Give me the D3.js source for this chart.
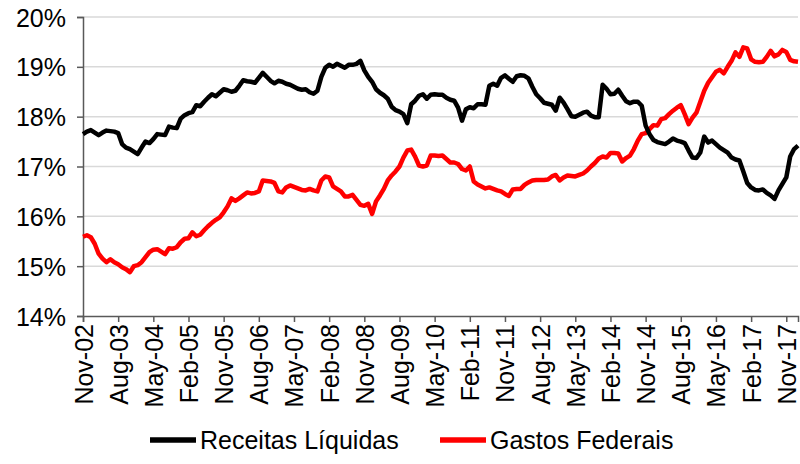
<!DOCTYPE html>
<html><head><meta charset="utf-8">
<script src="https://cdn.jsdelivr.net/npm/d3@7"></script>
<style>body{margin:0;background:#fff}svg{display:block}text{font-family:"Liberation Sans",Arial,sans-serif;fill:#000}</style>
</head><body>
<svg id="c" width="800" height="464"></svg>
<script>
const startMonth = "Nov-02";
const monthNames = ["Jan","Feb","Mar","Apr","May","Jun","Jul","Aug","Sep","Oct","Nov","Dec"];
const tickLabels = ["Nov-02","Aug-03","May-04","Feb-05","Nov-05","Aug-06","May-07","Feb-08","Nov-08","Aug-09","May-10","Feb-11","Nov-11","Aug-12","May-13","Feb-14","Nov-14","Aug-15","May-16","Feb-17","Nov-17"];
const yTicks = [14,15,16,17,18,19,20];
const seriesNames = ["Receitas Líquidas","Gastos Federais"];
const receitas = [
17.65,17.70,17.73,17.68,17.63,17.68,17.72,17.71,17.70,17.67,17.45,17.38,
17.35,17.30,17.25,17.38,17.50,17.47,17.55,17.65,17.64,17.63,17.80,17.78,
17.77,17.96,18.03,18.07,18.09,18.23,18.21,18.30,18.38,18.45,18.41,18.48,
18.55,18.53,18.50,18.52,18.62,18.73,18.71,18.70,18.68,18.78,18.88,18.80,
18.72,18.67,18.72,18.70,18.66,18.64,18.60,18.56,18.54,18.55,18.49,18.46,
18.52,18.80,18.98,19.04,19.00,19.06,19.02,18.98,19.04,19.04,19.06,19.12,
18.93,18.80,18.70,18.55,18.48,18.43,18.36,18.20,18.13,18.10,18.05,17.87,
18.25,18.32,18.42,18.45,18.36,18.44,18.45,18.44,18.44,18.38,18.34,18.32,
18.18,17.92,18.15,18.19,18.17,18.25,18.25,18.24,18.62,18.66,18.62,18.78,
18.83,18.76,18.70,18.81,18.83,18.82,18.77,18.60,18.45,18.37,18.28,18.26,
18.24,18.12,18.38,18.28,18.15,18.01,18.00,18.04,18.08,18.10,18.02,17.99,
17.99,18.64,18.56,18.45,18.46,18.54,18.42,18.31,18.27,18.30,18.30,18.22,
17.82,17.65,17.53,17.49,17.47,17.45,17.50,17.56,17.52,17.50,17.47,17.32,
17.18,17.17,17.28,17.60,17.48,17.52,17.45,17.38,17.33,17.28,17.18,17.14,
17.12,16.90,16.67,16.58,16.53,16.52,16.54,16.47,16.42,16.35,16.52,16.65,
16.78,17.20,17.35,17.42];
const gastos = [
15.59,15.62,15.58,15.45,15.25,15.15,15.08,15.14,15.08,15.04,14.98,14.94,
14.88,15.00,15.02,15.08,15.18,15.28,15.33,15.34,15.29,15.24,15.36,15.35,
15.38,15.48,15.55,15.56,15.68,15.60,15.63,15.72,15.80,15.87,15.93,15.98,
16.08,16.20,16.36,16.31,16.36,16.42,16.48,16.46,16.47,16.50,16.72,16.71,
16.70,16.67,16.50,16.48,16.58,16.62,16.59,16.56,16.53,16.52,16.55,16.52,
16.50,16.72,16.80,16.78,16.60,16.55,16.50,16.40,16.40,16.43,16.33,16.23,
16.21,16.25,16.05,16.30,16.42,16.55,16.72,16.82,16.90,17.00,17.18,17.32,
17.34,17.20,17.02,17.00,17.02,17.22,17.22,17.21,17.22,17.15,17.08,17.08,
17.05,16.95,16.92,17.00,16.70,16.64,16.60,16.56,16.58,16.55,16.52,16.50,
16.45,16.41,16.54,16.55,16.55,16.63,16.68,16.72,16.73,16.73,16.73,16.74,
16.80,16.83,16.72,16.78,16.82,16.81,16.80,16.83,16.86,16.92,17.00,17.07,
17.16,17.20,17.18,17.27,17.27,17.26,17.10,17.17,17.22,17.35,17.52,17.65,
17.67,17.75,17.83,17.82,17.95,17.97,18.05,18.12,18.18,18.23,18.05,17.85,
17.98,18.08,18.30,18.52,18.68,18.79,18.90,18.94,18.87,19.00,19.12,19.29,
19.20,19.39,19.37,19.15,19.10,19.09,19.10,19.20,19.32,19.21,19.25,19.34,
19.30,19.14,19.11,19.10];

function monthLabel(i){
  const m0 = monthNames.indexOf(startMonth.slice(0,3));
  const y0 = +startMonth.slice(4);
  const t = m0 + i;
  const m = ((t%12)+12)%12, y = y0 + Math.floor(t/12);
  return monthNames[m] + "-" + String(y).padStart(2,"0");
}
const months = receitas.map((_,i)=>monthLabel(i));

const svg = d3.select("#c");
const L = 83, R = 798, T = 17, B = 316;
const x = d3.scalePoint().domain(months).range([L,R]);
const y = d3.scaleLinear().domain([14,20]).range([B,T]);

svg.append("g").selectAll("line").data(yTicks.slice(1)).join("line")
  .attr("x1",L).attr("x2",R).attr("y1",d=>y(d)).attr("y2",d=>y(d))
  .attr("stroke","#d9d9d9").attr("stroke-width",1.5);

const ya = svg.append("g").attr("transform",`translate(${L},0)`)
  .call(d3.axisLeft(y).tickValues(yTicks).tickFormat(d=>d+"%").tickSize(6).tickPadding(11));
ya.select(".domain").attr("stroke","#595959").attr("stroke-width",1.5);
ya.selectAll(".tick line").attr("stroke","#595959").attr("stroke-width",1.5);
ya.selectAll("text").style("font-size","25px").attr("dy","0.36em");

const xa = svg.append("g").attr("transform",`translate(0,${B})`)
  .call(d3.axisBottom(x).tickValues(tickLabels).tickSize(6).tickPadding(8));
xa.select(".domain").attr("stroke","#595959").attr("stroke-width",1.5);
xa.selectAll(".tick line").attr("stroke","#595959").attr("stroke-width",1.5);
xa.selectAll("text").style("font-size","25px")
  .attr("transform","rotate(-90)").attr("text-anchor","end")
  .attr("x",-8).attr("y",0).attr("dy","0.36em");

const line = d3.line().x((d,i)=>x(months[i])).y(d=>y(d));
svg.append("path").datum(gastos).attr("d",line).attr("fill","none")
  .attr("stroke","#ff0000").attr("stroke-width",4.5).attr("stroke-linejoin","round");
svg.append("path").datum(receitas).attr("d",line).attr("fill","none")
  .attr("stroke","#000").attr("stroke-width",4.5).attr("stroke-linejoin","round");

const leg = [{name:seriesNames[0],color:"#000",x:150},{name:seriesNames[1],color:"#ff0000",x:440}];
const lg = svg.append("g").selectAll("g").data(leg).join("g").attr("transform",d=>`translate(${d.x},440)`);
lg.append("line").attr("x1",0).attr("x2",46).attr("stroke",d=>d.color).attr("stroke-width",5.5);
lg.append("text").attr("x",50).attr("dy","0.36em").style("font-size","25px").text(d=>d.name);
</script>
</body></html>
